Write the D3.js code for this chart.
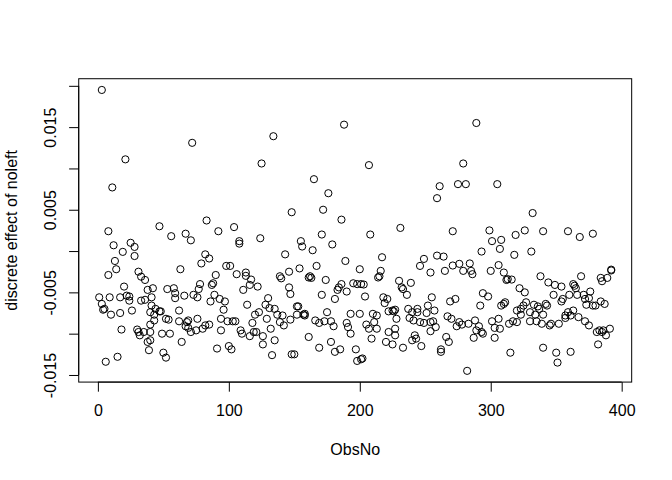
<!DOCTYPE html>
<html>
<head>
<meta charset="utf-8">
<script src="https://cdn.jsdelivr.net/npm/d3@7"></script>
<style>
html,body{margin:0;padding:0;background:#fff;}
svg{display:block;font-family:"Liberation Sans",Arial,Helvetica,sans-serif;}
</style>
</head>
<body>
<svg id="chart" width="672" height="480"></svg>
<script>
// ---- data (ObsNo, discrete effect of noleft) ----
const obsNo = [
1,3,3,4,5,6,8,8,9,10,11,12,13,14,15,17,17,18,19,20,21,22,24,24,25,26,28,28,30,31,31,32,33,33,35,36,36,38,38,39,40,40,41,
40,40,41,42,43,43,44,47,47,48,49,50,52,52,53,54,55,56,58,59,59,62,62,63,64,66,67,67,68,69,69,71,71,72,73,75,76,76,77,78,79,80,82,82,83,85,85,86,87,88,89,90,91,92,93,94,94,
96,97,98,99,100,101,102,103,104,105,106,108,108,109,110,111,113,113,114,116,116,117,118,119,120,121,122,123,124,125,126,126,128,129,130,131,132,133,134,135,135,137,139,139,140,141,142,143,146,146,147,147,148,148,
150,152,152,153,154,155,156,157,158,158,161,161,162,163,164,165,166,167,169,169,171,171,172,173,174,175,176,178,178,179,180,181,181,183,184,185,186,186,188,189,190,190,191,193,193,195,197,198,198,200,200,201,201,
202,203,204,205,207,207,208,209,210,211,213,213,214,215,216,217,218,219,220,221,222,222,225,225,226,227,227,227,228,230,231,232,233,233,236,237,238,239,240,240,241,242,243,244,244,246,246,247,249,249,251,252,254,254,254,
255,256,257,258,259,259,261,262,262,264,265,266,267,268,269,270,271,271,273,274,275,276,276,278,279,279,281,282,283,284,285,286,287,288,289,289,291,292,293,293,294,294,298,299,300,301,301,303,303,305,306,306,307,307,308,
308,310,310,311,312,313,314,315,316,317,318,319,320,320,322,323,323,325,326,326,327,330,330,331,332,333,334,335,336,337,338,339,340,340,340,342,343,344,345,346,348,349,350,351,352,354,354,355,357,357,359,359,360,361,361,
363,363,364,365,366,367,368,369,371,372,372,373,375,375,376,378,378,380,381,382,383,384,384,385,385,386,387,388,389,391,392,392
];
const effect = [
-0.0056,0.0195,-0.0064,-0.0071,-0.0070,-0.0134,-0.0029,0.0024,-0.0056,-0.0077,0.0077,0.0007,-0.0012,-0.0022,-0.0128,-0.0075,-0.0056,-0.0095,-0.0001,-0.0043,0.0111,-0.0054,-0.0060,-0.0055,0.0010,-0.0072,0.0005,-0.0006,-0.0095,-0.0025,-0.0098,-0.0102,-0.0031,-0.0060,-0.0098,-0.0035,-0.0059,-0.0047,-0.0110,-0.0120,-0.0074,-0.0089,-0.0056,
-0.0098,-0.0108,-0.0066,-0.0045,-0.0077,-0.0084,-0.0070,0.0030,-0.0073,-0.0073,-0.0100,-0.0123,-0.0082,-0.0129,-0.0046,-0.0083,-0.0100,0.0018,-0.0045,-0.0051,-0.0057,-0.0072,-0.0085,-0.0022,-0.0110,-0.0054,0.0021,-0.0091,-0.0086,-0.0084,-0.0093,0.0013,-0.0098,0.0131,-0.0053,-0.0096,-0.0056,-0.0082,-0.0046,-0.0040,-0.0015,-0.0094,-0.0004,-0.0090,0.0037,-0.0009,-0.0089,-0.0061,-0.0041,-0.0039,-0.0053,-0.0029,-0.0118,0.0024,-0.0058,-0.0082,-0.0096,
-0.0071,-0.0061,-0.0018,-0.0085,-0.0115,-0.0018,-0.0119,-0.0085,0.0029,-0.0085,-0.0028,0.0012,0.0009,-0.0096,-0.0100,-0.0047,-0.0026,-0.0030,-0.0065,-0.0041,-0.0103,-0.00345,-0.0087,-0.0098,-0.0077,-0.0098,-0.0043,-0.0074,0.00155,0.0106,-0.0103,-0.0113,-0.0065,-0.0082,-0.0057,-0.0069,-0.0094,-0.0126,0.0139,-0.0070,-0.0108,-0.0077,-0.00305,-0.0086,-0.0033,-0.0078,-0.0090,-0.0004,-0.0025,-0.0044,-0.0052,-0.0083,0.0047,-0.0125,
-0.0125,-0.0067,-0.0077,-0.0067,-0.0021,0.0012,0.00055,-0.0077,-0.0078,-0.0076,-0.0032,-0.0104,-0.00305,-0.00325,0.0001,0.0087,-0.0084,-0.0018,-0.0087,-0.0117,0.0020,-0.0053,0.0050,-0.0085,-0.0035,-0.0074,0.0070,-0.0085,-0.0110,0.0008,-0.0091,-0.0058,-0.0122,-0.0047,-0.0044,-0.0119,0.0038,-0.0040,0.0153,-0.0012,-0.0049,-0.0087,-0.0092,-0.0076,-0.0100,-0.0039,-0.0119,-0.0040,-0.0133,-0.0022,-0.0076,-0.0040,-0.0131,
-0.0130,-0.00405,-0.0055,-0.0089,0.0104,-0.0094,0.0020,-0.0106,-0.0076,-0.0086,-0.0078,-0.0094,-0.0032,-0.00305,-0.0024,-0.00075,-0.0056,-0.0063,-0.0110,-0.0058,-0.0073,-0.0098,-0.0072,-0.0113,-0.0073,-0.0071,-0.0094,-0.0102,-0.0082,-0.0036,0.0028,-0.0044,-0.0046,-0.0117,-0.0053,-0.0070,-0.0081,-0.00385,-0.0074,-0.0108,-0.0084,-0.0102,-0.0106,-0.0070,-0.0074,-0.0018,-0.0086,-0.0115,-0.00095,-0.0087,-0.0075,-0.0066,-0.0026,-0.0086,-0.0097,
-0.0056,-0.0085,-0.0072,-0.0092,0.0064,-0.00055,0.00785,-0.0119,-0.0122,-0.00067,-0.0024,-0.0104,-0.0079,-0.0110,-0.0061,-0.0082,0.0024,-0.00175,-0.0058,-0.0091,0.0081,-0.00155,-0.0086,-0.0089,0.0106,-0.0024,0.0081,-0.0145,-0.0088,-0.0015,-0.0024,-0.0028,-0.0105,-0.0084,0.0155,-0.0096,-0.0091,-0.0066,-0.00006,-0.0098,-0.0051,-0.0100,-0.0055,0.0025,-0.0024,0.0012,-0.0085,-0.0093,-0.0105,0.0081,-0.0017,-0.0082,0.00026,-0.0094,-0.0066,
0.00135,-0.0026,-0.0064,-0.0062,-0.0035,-0.0034,-0.0088,-0.0123,-0.00345,-0.0085,-0.00046,0.00195,-0.0072,-0.0086,-0.0045,-0.0070,-0.0077,-0.0066,0.0025,-0.0050,-0.0062,-0.0074,-0.0085,-0.00006,0.0046,-0.0065,-0.0077,-0.0085,-0.0067,-0.0070,-0.00305,-0.0088,0.0024,-0.0077,-0.0117,-0.0064,-0.0066,-0.0038,-0.0090,-0.0088,-0.0053,-0.0041,-0.0123,-0.0135,-0.0088,-0.0043,-0.0061,-0.0058,-0.0078,-0.0081,0.0024,-0.0074,-0.0053,-0.0078,-0.0122,
-0.0040,-0.0072,-0.0042,-0.0045,-0.0053,-0.0080,0.0017,-0.00305,-0.0053,-0.0058,-0.0085,-0.0065,-0.0057,-0.0090,-0.0049,0.0021,-0.0066,-0.0066,-0.0098,-0.0113,-0.0096,-0.00325,-0.0061,-0.00365,-0.0098,-0.0096,-0.0064,-0.0102,-0.00325,-0.0094,-0.00225,-0.00235
];
const xTicks = [0, 100, 200, 300, 400];
const yTicks = [-0.015, -0.010, -0.005, 0.000, 0.005, 0.010, 0.015, 0.020];
const yTickLabels = ["-0.015", "", "-0.005", "", "0.005", "", "0.015", ""];
const xTitle = "ObsNo";
const yTitle = "discrete effect of noleft";

// ---- layout (R base-graphics margins at 96 dpi) ----
const W = 672, H = 480;
const lineH = 19.2;
const plot = {left: 4.1 * lineH, right: W - 2.1 * lineH, top: 4.1 * lineH, bottom: H - 5.1 * lineH};
const fontSize = 16;

const svg = d3.select("#chart");

// R-style 4% range extension
function ext(arr) {
  const [a, b] = d3.extent(arr);
  const p = (b - a) * 0.04;
  return [a - p, b + p];
}
const x = d3.scaleLinear().domain(ext(obsNo)).range([plot.left, plot.right]);
const y = d3.scaleLinear().domain(ext(effect)).range([plot.bottom, plot.top]);

const data = obsNo.map((o, i) => ({o, v: effect[i]}));

// points (pch = 1)
svg.append("g").selectAll("circle").data(data).join("circle")
  .attr("cx", d => x(d.o))
  .attr("cy", d => y(d.v))
  .attr("r", 3.6)
  .attr("fill", "none")
  .attr("stroke", "#000")
  .attr("stroke-width", 1);

// box
svg.append("rect")
  .attr("x", plot.left).attr("y", plot.top)
  .attr("width", plot.right - plot.left).attr("height", plot.bottom - plot.top)
  .attr("fill", "none").attr("stroke", "#000").attr("stroke-width", 1);

const tickLen = 0.5 * lineH;

// x axis
const gx = svg.append("g").attr("transform", `translate(0,${plot.bottom})`);
gx.call(d3.axisBottom(x).tickValues(xTicks).tickSize(tickLen).tickSizeOuter(0).tickFormat(d3.format("d")));
gx.select(".domain").remove();
gx.append("line").attr("x1", x(xTicks[0])).attr("x2", x(xTicks[xTicks.length - 1]))
  .attr("stroke", "#000");
gx.selectAll(".tick line").attr("stroke", "#000");
gx.selectAll(".tick text")
  .attr("y", 1.5 * lineH).attr("dy", "0.35em")
  .attr("fill", "#000").style("font-size", fontSize + "px").style("font-family", "Liberation Sans, Arial, sans-serif");

// y axis
const gy = svg.append("g").attr("transform", `translate(${plot.left},0)`);
gy.call(d3.axisLeft(y).tickValues(yTicks).tickSize(tickLen).tickSizeOuter(0)
  .tickFormat((d, i) => yTickLabels[i]));
gy.select(".domain").remove();
gy.append("line").attr("y1", y(yTicks[0])).attr("y2", y(yTicks[yTicks.length - 1]))
  .attr("stroke", "#000");
gy.selectAll(".tick line").attr("stroke", "#000");
gy.selectAll(".tick text")
  .attr("x", null).attr("dy", null)
  .attr("text-anchor", "middle")
  .attr("transform", `translate(${-1.5 * lineH + 0.35 * fontSize},0) rotate(-90)`)
  .attr("fill", "#000").style("font-size", fontSize + "px").style("font-family", "Liberation Sans, Arial, sans-serif");

// axis titles
svg.append("text")
  .attr("x", (plot.left + plot.right) / 2).attr("y", plot.bottom + 3.5 * lineH).attr("dy", "0.35em")
  .attr("text-anchor", "middle").style("font-size", fontSize + "px").text(xTitle);
svg.append("text")
  .attr("transform", `translate(${plot.left - 3.5 * lineH + 0.35 * fontSize},${(plot.top + plot.bottom) / 2}) rotate(-90)`)
  .attr("text-anchor", "middle").style("font-size", fontSize + "px").text(yTitle);
</script>
</body>
</html>
